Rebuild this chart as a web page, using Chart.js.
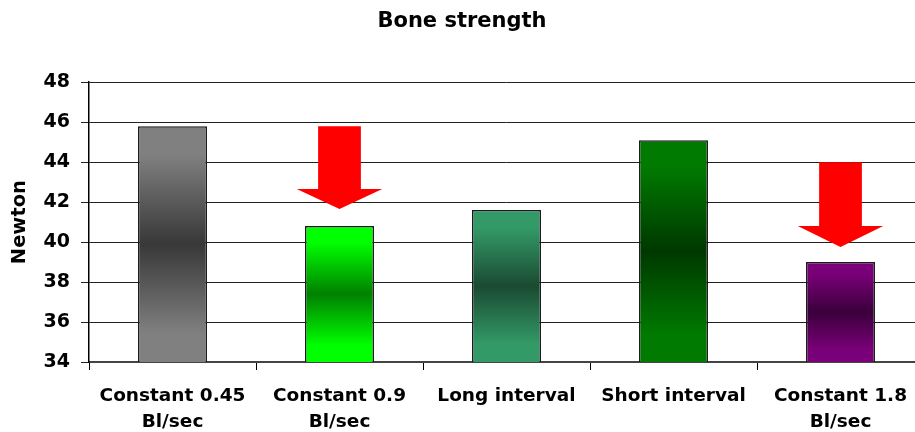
<!DOCTYPE html>
<html>
<head>
<meta charset="utf-8">
<script src="https://cdn.jsdelivr.net/npm/chart.js@4/dist/chart.umd.min.js"></script>
<style>
  html, body { margin: 0; padding: 0; background: #fff; overflow: hidden; }
</style>
</head>
<body>
<canvas id="chart" width="926" height="432"></canvas>
<script>
// chart data
const categories = [
    ['Constant 0.45', 'Bl/sec'],
    ['Constant 0.9', 'Bl/sec'],
    'Long interval',
    'Short interval',
    ['Constant 1.8', 'Bl/sec']
];
const values = [45.8, 40.8, 41.6, 45.1, 39.0];
const yTicks = [34, 36, 38, 40, 42, 44, 46, 48];

// bar gradient colours (edge, centre)
const lightColors = ['#808080', '#00ff00', '#339966', '#007a00', '#7a007a'];
const darkColors = ['#383838', '#008000', '#1a4a32', '#003800', '#3a003a'];

// red arrows: which bar, top of shaft, start of head, tip (in Newton)
const arrowBars = [1, 4];
const arrowTop = [45.8, 44.0];
const arrowHead = [42.65, 40.8];
const arrowTip = [41.65, 39.75];

const font = '"DejaVu Sans", Arial, sans-serif';

function barFill(context) {
    const i = context.dataIndex;
    const chart = context.chart;
    const { chartArea, scales } = chart;
    if (!chartArea || context.type !== 'data') return lightColors[i];
    const top = scales.y.getPixelForValue(values[i]);
    const bottom = scales.y.getPixelForValue(scales.y.min);
    const g = chart.ctx.createLinearGradient(0, top, 0, bottom);
    g.addColorStop(0, lightColors[i]);
    g.addColorStop(0.12, lightColors[i]);
    g.addColorStop(0.5, darkColors[i]);
    g.addColorStop(0.88, lightColors[i]);
    g.addColorStop(1, lightColors[i]);
    return g;
}

const arrowPlugin = {
    id: 'arrows',
    afterDatasetsDraw(chart) {
        const ctx = chart.ctx;
        const y = chart.scales.y;
        const bars = chart.getDatasetMeta(0).data;
        ctx.save();
        ctx.fillStyle = '#ff0000';
        arrowBars.forEach((b, k) => {
            const bar = bars[b];
            const cx = bar.x;
            const shaft = bar.width * 0.31;
            const head = bar.width * 0.62;
            const yTop = y.getPixelForValue(arrowTop[k]);
            const yHead = y.getPixelForValue(arrowHead[k]);
            const yTip = y.getPixelForValue(arrowTip[k]);
            ctx.beginPath();
            ctx.moveTo(cx - shaft, yTop);
            ctx.lineTo(cx + shaft, yTop);
            ctx.lineTo(cx + shaft, yHead);
            ctx.lineTo(cx + head, yHead);
            ctx.lineTo(cx, yTip);
            ctx.lineTo(cx - head, yHead);
            ctx.lineTo(cx - shaft, yHead);
            ctx.closePath();
            ctx.fill();
        });
        ctx.restore();
    }
};

new Chart(document.getElementById('chart'), {
    type: 'bar',
    data: {
        labels: categories,
        datasets: [{
            data: values,
            backgroundColor: barFill,
            borderColor: '#1a1a1a',
            borderWidth: 1.5,
            categoryPercentage: 1,
            barPercentage: 0.413
        }]
    },
    options: {
        responsive: false,
        animation: false,
        layout: { padding: { left: 0, right: 2, top: 0, bottom: 0 } },
        plugins: {
            legend: { display: false },
            tooltip: { enabled: false },
            title: {
                display: true,
                text: 'Bone strength',
                color: '#000',
                font: { family: font, size: 21, weight: 'bold' },
                padding: { top: 9, bottom: 48 }
            }
        },
        scales: {
            x: {
                grid: { drawOnChartArea: false, color: '#000', tickLength: 8 },
                border: { color: '#444', width: 2 },
                ticks: {
                    color: '#000',
                    font: { family: font, size: 18.5, weight: 'bold', lineHeight: 1.4 },
                    padding: 13,
                    maxRotation: 0,
                    autoSkip: false
                },
                afterFit(scale) { scale.height = 70; }
            },
            y: {
                min: yTicks[0],
                max: yTicks[yTicks.length - 1],
                afterBuildTicks(scale) { scale.ticks = yTicks.map(v => ({ value: v })); },
                grid: { color: '#222', tickLength: 8 },
                border: { color: '#000', width: 1.5 },
                ticks: {
                    color: '#000',
                    font: { family: font, size: 19, weight: 'bold' },
                    padding: 11
                },
                title: {
                    display: true,
                    text: 'Newton',
                    color: '#000',
                    font: { family: font, size: 19.5, weight: 'bold' },
                    padding: { top: 8, bottom: 0 }
                },
                afterFit(scale) { scale.width = 89; }
            }
        }
    },
    plugins: [arrowPlugin]
});
</script>
</body>
</html>
